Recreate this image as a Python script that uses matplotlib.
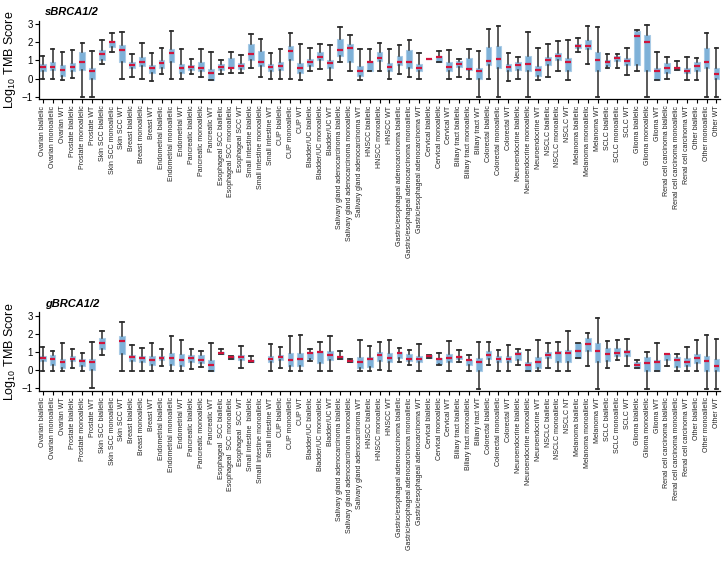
import numpy as np
import matplotlib
matplotlib.use("Agg")
import matplotlib.pyplot as plt

plt.rcParams["font.family"] = ["Liberation Sans", "DejaVu Sans"]
plt.rcParams["mathtext.fontset"] = "custom"
plt.rcParams["mathtext.rm"] = "Liberation Sans"

CANCER_TYPES = [
	"Ovarian", "Prostate", "Skin SCC", "Breast", "Endometrial", "Pancreatic",
	"Esophageal SCC", "Small intestine", "CUP", "Bladder/UC",
	"Salivary gland adenocarcinoma", "HNSCC", "Gastric/esophageal adenocarcinoma",
	"Cervical", "Biliary tract", "Colorectal", "Neuroendocrine", "NSCLC",
	"Melanoma", "SCLC", "Glioma", "Renal cell carcinoma", "Other",
]
STATUSES = ["biallelic", "monoallelic", "WT"]
TOP_LABELS = [f"{c} {s}" for c in CANCER_TYPES for s in STATUSES]

# the germline panel has a few labels spelled differently
BOTTOM_LABELS = list(TOP_LABELS)
BOTTOM_LABELS[18] = "Esophageal  SCC biallelic"
BOTTOM_LABELS[19] = "Esophageal  SCC monoallelic"
BOTTOM_LABELS[20] = "Esophageal  SCC WT"
BOTTOM_LABELS[21] = "Small intestine  biallelic"
BOTTOM_LABELS[22] = "Smalll intestine monoallelic"
BOTTOM_LABELS[53] = "NSCLC NT"

# sBRCA1/2 : whisker low, Q1, median, Q3, whisker high (log10 TMB)
S_LOW = [-0.04, -0.04, -0.09, 0.05, -1.0, -1.0, 0.79, 1.47, -0.04, 0.11, -0.04, -0.11,
	0.26, -0.04, -0.04, 0.26, 0.07, -0.09, 0.26, 0.29, 0.29, 0.61, 0.11, -0.04,
	-0.04, -0.04, -0.07, 0.42, 0.55, -0.07, 0.90, 0.44, -0.09, 0.44, 0.42, -0.04,
	0.26, 0.09, -0.04, 1.06, 0.92, -0.04, 0.09, -0.04, -1.0, -0.04, -1.0, -0.11,
	-0.04, -1.0, -0.09, 0.11, 0.42, -0.09, 1.45, 0.79, -1.0, 0.57, 0.57, 0.18,
	0.42, -1.0, -0.07, -0.02, 0.46, -0.07, -0.07, -1.0, -1.0]
S_Q1 = [0.44, 0.46, 0.13, 0.44, 0.46, -0.02, 1.03, 1.74, 0.92, 0.57, 0.72, 0.29,
	0.61, 0.92, 0.29, 0.50, 0.40, -0.07, 0.48, 0.57, 0.53, 1.03, 0.72, 0.42,
	0.46, 1.01, 0.28, 0.72, 1.01, 0.57, 1.23, 0.90, 0.13, 0.44, 0.95, 0.44,
	0.77, 0.57, 0.42, 1.06, 0.92, 0.42, 0.64, 0.46, -0.02, 0.73, 0.61, 0.41,
	0.50, 0.44, 0.13, 0.75, 1.01, 0.44, 1.67, 1.63, 0.44, 0.70, 0.97, 0.73,
	0.75, 0.44, -0.07, 0.28, 0.46, 0.31, 0.44, 0.57, -0.04]
S_MED = [0.64, 0.64, 0.46, 0.64, 0.90, 0.40, 1.34, 2.00, 1.60, 0.73, 0.90, 0.57,
	0.84, 1.39, 0.57, 0.64, 0.57, 0.29, 0.66, 0.59, 0.72, 1.38, 0.90, 0.62,
	0.72, 1.50, 0.61, 0.92, 1.21, 0.84, 1.60, 1.67, 0.44, 0.92, 1.16, 0.66,
	0.94, 0.94, 0.61, 1.08, 1.17, 0.66, 0.79, 0.55, 0.40, 0.97, 1.10, 0.63,
	0.75, 0.79, 0.46, 1.03, 1.25, 0.90, 1.82, 1.82, 1.01, 0.90, 1.14, 0.95,
	2.37, 2.02, 0.42, 0.61, 0.57, 0.44, 0.70, 0.94, 0.26]
S_Q3 = [0.81, 0.90, 0.73, 0.88, 1.45, 0.57, 1.56, 2.09, 1.83, 0.90, 1.19, 0.75,
	1.05, 1.61, 0.79, 0.75, 0.90, 0.55, 0.79, 1.12, 0.84, 1.89, 1.54, 0.79,
	0.92, 1.78, 0.86, 1.06, 1.45, 1.03, 2.20, 1.93, 0.68, 0.99, 1.45, 0.88,
	1.23, 1.56, 0.79, 1.10, 1.27, 0.92, 0.95, 1.12, 0.59, 1.74, 1.78, 0.79,
	0.90, 1.23, 0.72, 1.21, 1.43, 1.14, 1.94, 2.15, 1.45, 1.01, 1.23, 1.12,
	2.66, 2.40, 0.57, 0.88, 0.62, 0.61, 0.92, 1.67, 0.61]
S_HIGH = [1.25, 1.61, 1.45, 1.58, 1.98, 1.52, 2.15, 2.53, 2.59, 1.34, 1.96, 1.43,
	1.71, 2.62, 1.61, 1.10, 1.63, 1.47, 1.01, 1.47, 1.30, 2.44, 2.17, 1.43,
	1.61, 2.55, 1.89, 1.71, 1.93, 1.83, 2.84, 2.40, 1.61, 1.61, 1.98, 1.63,
	1.83, 2.15, 1.39, 1.10, 1.52, 1.60, 1.10, 1.65, 1.52, 2.72, 2.90, 1.39,
	1.17, 2.59, 1.67, 1.89, 2.09, 2.15, 2.22, 2.92, 2.84, 1.36, 1.34, 1.67,
	2.68, 2.94, 1.49, 1.21, 0.95, 1.21, 1.16, 2.55, 1.69]

# gBRCA1/2 : same layout, None where no box is drawn
G_LOW = [-0.02, -0.02, -0.02, 0.15, -0.02, -1.0, 0.86, None, -0.02, -0.02, -0.02, -0.02,
	0.26, -0.02, -0.02, 0.07, 0.18, -0.05, 0.91, 0.64, 0.13, 0.44, None, -0.02,
	0.13, -0.02, -0.02, 0.49, -0.02, -0.05, 0.64, 0.46, -0.05, -0.05, 0.0, -0.02,
	0.44, 0.27, -0.02, 0.69, 0.27, -0.02, 0.44, -0.02, -1.04, 0.27, -0.02, -0.05,
	0.29, -0.05, -0.05, 0.13, -0.02, -0.05, 0.66, 0.26, -1.04, 0.13, 0.58, 0.26,
	0.13, -1.04, -0.05, 0.26, -0.05, -0.05, -0.05, -1.04, -1.04]
G_Q1 = [0.49, 0.27, 0.15, 0.49, 0.26, 0.0, 1.19, None, 0.91, 0.49, 0.47, 0.27,
	0.58, 0.27, 0.24, 0.46, 0.38, -0.04, 0.91, 0.64, 0.58, 0.44, None, 0.44,
	0.58, 0.25, 0.24, 0.62, 0.38, 0.58, 0.64, 0.46, 0.13, 0.20, 0.51, 0.44,
	0.66, 0.49, 0.44, 0.69, 0.36, 0.44, 0.60, 0.27, -0.02, 0.60, 0.44, 0.44,
	0.58, -0.05, 0.13, 0.68, 0.44, 0.44, 0.66, 1.04, 0.46, 0.53, 0.80, 0.77,
	0.13, -0.02, -0.05, 0.58, 0.20, 0.26, 0.38, -0.02, -0.05]
G_MED = [0.66, 0.60, 0.47, 0.62, 0.49, 0.47, 1.51, None, 1.62, 0.75, 0.68, 0.58,
	0.68, 0.68, 0.58, 0.68, 0.58, 0.27, 0.97, 0.73, 0.73, 0.51, None, 0.62,
	0.75, 0.58, 0.62, 0.95, 1.00, 0.84, 0.75, 0.51, 0.46, 0.62, 0.84, 0.68,
	0.93, 0.64, 0.62, 0.77, 0.60, 0.68, 0.71, 0.55, 0.44, 0.84, 0.64, 0.64,
	0.91, 0.27, 0.46, 0.84, 0.93, 0.93, 1.07, 1.46, 1.06, 0.91, 0.97, 1.00,
	0.27, 0.38, 0.44, 0.89, 0.58, 0.46, 0.68, 0.53, 0.26]
G_Q3 = [0.80, 0.84, 0.64, 0.77, 0.64, 0.60, 1.79, None, 1.88, 0.86, 0.80, 0.77,
	0.80, 0.95, 0.91, 0.82, 0.82, 0.58, 1.02, 0.77, 0.86, 0.57, None, 0.80,
	0.86, 0.98, 0.95, 0.99, 1.04, 1.08, 0.80, 0.57, 0.75, 0.71, 1.02, 0.93,
	0.99, 0.88, 0.80, 0.86, 0.69, 0.91, 0.80, 0.58, 0.66, 1.04, 0.80, 0.80,
	1.02, 0.46, 0.75, 1.02, 1.08, 1.11, 1.50, 1.77, 1.50, 1.24, 1.24, 1.11,
	0.46, 0.75, 0.58, 0.91, 0.75, 0.66, 0.91, 0.78, 0.64]
G_HIGH = [1.30, 1.06, 1.49, 1.17, 0.97, 1.55, 2.15, None, 2.66, 1.39, 1.24, 1.49,
	1.17, 1.89, 1.66, 1.15, 1.06, 1.51, 1.15, 0.80, 1.35, 0.77, None, 1.46,
	1.28, 1.92, 1.96, 1.17, 1.55, 1.88, 1.09, 0.60, 1.66, 1.35, 1.55, 1.66,
	1.24, 1.11, 1.46, 0.86, 0.97, 1.62, 1.11, 0.84, 1.58, 1.58, 1.11, 1.42,
	1.19, 1.11, 1.70, 1.50, 1.59, 2.15, 1.50, 2.08, 2.90, 1.62, 1.66, 1.73,
	0.58, 1.02, 1.50, 0.91, 0.89, 1.28, 1.68, 1.95, 1.73]

BOX_FACE = "#7eb1d8"
BOX_EDGE = "#a9cbe6"
MEDIAN_RED = "#d0143c"
WHISKER = "#2b2b2b"


def make_stats(low, q1, med, q3, high):
	stats, pos = [], []
	for i in range(len(med)):
		if med[i] is None:
			continue
		stats.append(dict(whislo=low[i], q1=q1[i], med=med[i], q3=q3[i],
			whishi=high[i], fliers=[]))
		pos.append(i + 1)
	return stats, pos


def draw_panel(ax, stats, pos, labels, title):
	ax.bxp(
		stats,
		positions=pos,
		widths=0.58,
		capwidths=0.36,
		patch_artist=True,
		showfliers=False,
		boxprops=dict(facecolor=BOX_FACE, edgecolor=BOX_EDGE, linewidth=0.8),
		medianprops=dict(color=MEDIAN_RED, linewidth=1.6, solid_capstyle="butt"),
		whiskerprops=dict(color=WHISKER, linewidth=1.1),
		capprops=dict(color=WHISKER, linewidth=1.3),
		zorder=2,
	)
	ax.set_xlim(0.66, len(labels) + 0.35)
	ax.set_ylim(-1.15, 3.2)
	ax.set_yticks([-1, 0, 1, 2, 3])
	ax.set_yticklabels(["\u22121", "0", "1", "2", "3"], fontsize=7)
	ax.set_xticks(np.arange(1, len(labels) + 1))
	ax.set_xticklabels(labels, rotation=90, fontsize=5.0, color="#222222")
	ax.tick_params(axis="both", direction="out", length=3, width=0.8, pad=1.5)
	for side in ("top", "right"):
		ax.spines[side].set_visible(False)
	for side in ("left", "bottom"):
		ax.spines[side].set_linewidth(0.9)
	ax.set_ylabel(r"Log$_\mathregular{10}$ TMB Score", fontsize=9, labelpad=3)
	ax.text(0.008, 1.05, title, transform=ax.transAxes, fontsize=8,
		fontweight="bold", fontstyle="italic", va="bottom", ha="left")


def main():
	fig = plt.figure(figsize=(7.25, 5.69), dpi=100)
	ax_s = fig.add_axes([0.0542, 0.8255, 0.9388, 0.138])
	ax_g = fig.add_axes([0.0542, 0.3128, 0.9388, 0.138])

	s_stats, s_pos = make_stats(S_LOW, S_Q1, S_MED, S_Q3, S_HIGH)
	g_stats, g_pos = make_stats(G_LOW, G_Q1, G_MED, G_Q3, G_HIGH)

	draw_panel(ax_s, s_stats, s_pos, TOP_LABELS, "sBRCA1/2")
	draw_panel(ax_g, g_stats, g_pos, BOTTOM_LABELS, "gBRCA1/2")

	fig.savefig("out.png", dpi=100)


if __name__ == "__main__":
	main()
